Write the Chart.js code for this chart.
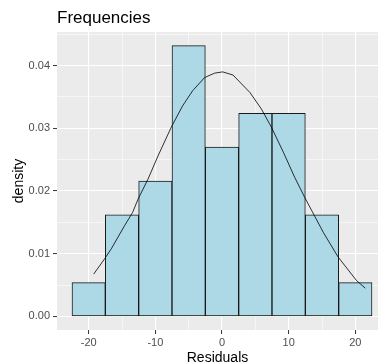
<!DOCTYPE html>
<html>
<head>
<meta charset="utf-8">
<script src="https://cdn.jsdelivr.net/npm/chart.js@4/dist/chart.umd.min.js"></script>
<style>
html,body{margin:0;padding:0;background:#fff;}
#wrap{width:378px;height:364px;position:relative;}
</style>
</head>
<body>
<div id="wrap"><canvas id="c" width="378" height="364"></canvas></div>
<script>
// Histogram bins (centres, width 5) and densities
const binCenters = [-20, -15, -10, -5, 0, 5, 10, 15, 20];
const densities  = [0.0054, 0.0162, 0.0216, 0.0432, 0.0270, 0.0324, 0.0324, 0.0162, 0.0054];
// Normal density curve points
const curveX = [-19.25, -17.6, -16.6, -14.6, -13.4, -12.6, -11.1, -9.6, -7.6, -5.9, -4.4, -2.6, -1.1, 0.1, 1.65, 4.2, 5.9, 7.4, 9.2, 10.9, 12.4, 15.2, 17.4, 20.2, 21.5];
const curveY = [0.00675, 0.0092, 0.0108, 0.0145, 0.0166, 0.0187, 0.0219, 0.0256, 0.0302, 0.0336, 0.0360, 0.0381, 0.0388, 0.0390, 0.0385, 0.0357, 0.0331, 0.0302, 0.0262, 0.0222, 0.0190, 0.0134, 0.0095, 0.0057, 0.0045];
// Ticks
const xMajor = [-20, -10, 0, 10, 20];
const xMinor = [-15, -5, 5, 15];
const yMajor = [0, 0.01, 0.02, 0.03, 0.04];
const yMinor = [0.005, 0.015, 0.025, 0.035, 0.045];
const yLabels = ['0.00', '0.01', '0.02', '0.03', '0.04'];
const xLabels = ['-20', '-10', '0', '10', '20'];

const FONT = "'Liberation Sans', Arial, sans-serif";
const isMajor = (arr, v) => arr.some(m => Math.abs(m - v) < 1e-9);

const panelBg = {
  id: 'panelBg',
  beforeDraw(chart) {
    const {ctx, chartArea: a} = chart;
    ctx.save();
    ctx.fillStyle = '#EBEBEB';
    ctx.fillRect(a.left, a.top, a.right - a.left, a.bottom - a.top);
    ctx.restore();
  },
  afterDraw(chart) {
    const {ctx, chartArea: a} = chart;
    ctx.save();
    ctx.fillStyle = '#000';
    ctx.font = '17px ' + FONT;
    ctx.textBaseline = 'alphabetic';
    ctx.textAlign = 'left';
    ctx.fillText('Frequencies', a.left, 23);
    ctx.restore();
  }
};

function gridStyle(majors) {
  return {
    color: '#FFFFFF',
    lineWidth: c => (c.tick && isMajor(majors, c.tick.value)) ? 1.1 : 0.55,
    tickColor: c => (c.tick && isMajor(majors, c.tick.value)) ? '#333333' : 'rgba(0,0,0,0)',
    tickWidth: 1,
    tickLength: 4,
    drawTicks: true,
    drawOnChartArea: true,
    offset: false
  };
}

new Chart(document.getElementById('c'), {
  type: 'bar',
  data: {
    datasets: [
      {
        type: 'line',
        data: curveX.map((x, i) => ({x: x, y: curveY[i]})),
        borderColor: '#000000',
        borderWidth: 0.8,
        pointRadius: 0,
        tension: 0,
        fill: false,
        order: 0
      },
      {
        type: 'bar',
        data: binCenters.map((x, i) => ({x: x, y: densities[i]})),
        backgroundColor: '#ADD8E6',
        borderColor: '#1A1A1A',
        borderWidth: 1,
        borderSkipped: false,
        barPercentage: 1,
        categoryPercentage: 1,
        order: 1
      }
    ]
  },
  options: {
    responsive: false,
    animation: false,
    devicePixelRatio: 1,
    layout: {padding: {top: 32, left: 0, right: 0, bottom: 0}},
    plugins: {legend: {display: false}, tooltip: {enabled: false}, title: {display: false}},
    scales: {
      x: {
        type: 'linear',
        min: -24.75,
        max: 23.4,
        offset: false,
        border: {display: false},
        grid: gridStyle(xMajor),
        afterBuildTicks: s => { s.ticks = [...xMajor, ...xMinor].sort((a,b)=>a-b).map(v => ({value: v})); },
        afterFit: s => { s.height = 34; },
        ticks: {
          autoSkip: false,
          maxRotation: 0,
          padding: 2,
          color: '#4D4D4D',
          font: {family: FONT, size: 11},
          callback: v => { const i = xMajor.findIndex(m => Math.abs(m - v) < 1e-9); return i >= 0 ? xLabels[i] : ''; }
        },
        title: {display: true, text: 'Residuals', color: '#000', font: {family: FONT, size: 14}, padding: {top: 0, bottom: -3}}
      },
      y: {
        type: 'linear',
        min: -0.00216,
        max: 0.04536,
        border: {display: false},
        grid: gridStyle(yMajor),
        afterBuildTicks: s => { s.ticks = [...yMajor, ...yMinor].sort((a,b)=>a-b).map(v => ({value: v})); },
        afterFit: s => { s.width = 57; },
        ticks: {
          autoSkip: false,
          padding: 3,
          color: '#4D4D4D',
          font: {family: FONT, size: 11},
          callback: v => { const i = yMajor.findIndex(m => Math.abs(m - v) < 1e-9); return i >= 0 ? yLabels[i] : ''; }
        },
        title: {display: true, text: 'density', color: '#000', font: {family: FONT, size: 14}, padding: {top: 11, bottom: 0}}
      }
    }
  },
  plugins: [panelBg]
});
</script>
</body>
</html>
